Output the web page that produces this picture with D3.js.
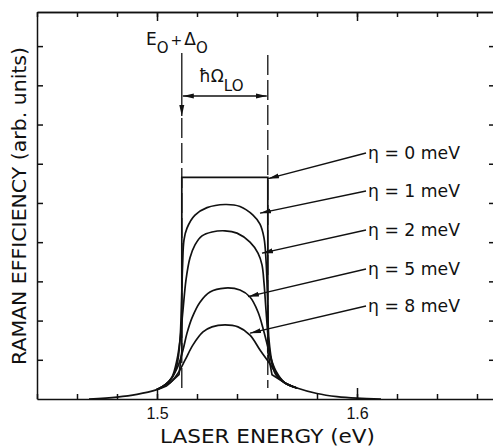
<!DOCTYPE html>
<html>
<head>
<meta charset="utf-8">
<script src="https://cdn.jsdelivr.net/npm/d3@7"></script>
<style>
  body { margin: 0; background: #fff; }
  svg { font-family: "DejaVu Sans", "Liberation Sans", sans-serif; }
  .axis path, .axis line { stroke: #111; stroke-width: 1.5; }
  .curve { fill: none; stroke: #111; stroke-width: 1.7; }
</style>
</head>
<body>
<svg width="493" height="447"></svg>
<script>
// tick values
var minorTicks = d3.range(0, 12).map(function (i) { return +(1.44 + i * 0.02).toFixed(2); });
var majorTicks = [1.5, 1.6];
var yTicks = [1, 2, 3, 4, 5, 6, 7, 8, 9];

// shared tails (eV, arb. units)
var tailLeft = [[1.466, 0], [1.48, 0.05], [1.49, 0.12], [1.50, 0.24]];
var tailRight = [[1.57, 0.28], [1.58, 0.14], [1.59, 0.06], [1.60, 0.02], [1.612, 0]];

// eta = 0 meV : box between E0+D0 and E0+D0+hOmega
var eta0 = [[1.505, 0.34], [1.511, 0.62], [1.5124, 1.2], [1.5124, 5.65], [1.5554, 5.65],
            [1.5554, 1.2], [1.5575, 0.62], [1.564, 0.41]];
var eta1 = [[1.504, 0.36], [1.5075, 0.54], [1.51, 0.87], [1.5115, 1.5], [1.5123, 2.53], [1.5128, 3.42],
            [1.5135, 4.06], [1.515, 4.36], [1.519, 4.69], [1.525, 4.88], [1.534, 4.96], [1.5415, 4.91],
            [1.548, 4.69], [1.5515, 4.46], [1.5535, 4.11], [1.5545, 3.55], [1.5553, 2.53], [1.556, 1.5],
            [1.558, 0.84], [1.561, 0.54], [1.564, 0.41]];
var eta2 = [[1.504, 0.36], [1.5075, 0.56], [1.51, 1.0], [1.5115, 1.5], [1.513, 2.27], [1.5145, 3.04],
            [1.5165, 3.6], [1.519, 3.93], [1.5225, 4.16], [1.5275, 4.26], [1.534, 4.29], [1.54, 4.23],
            [1.5465, 4.0], [1.5505, 3.72], [1.5525, 3.42], [1.5535, 2.96], [1.5545, 2.27], [1.5555, 1.63],
            [1.557, 1.0], [1.5595, 0.61], [1.564, 0.41]];
var eta5 = [[1.5025, 0.31], [1.5065, 0.48], [1.5105, 0.84], [1.513, 1.25], [1.515, 1.68], [1.5175, 2.07],
            [1.5215, 2.47], [1.5265, 2.73], [1.534, 2.83], [1.5415, 2.78], [1.5465, 2.6], [1.5505, 2.22],
            [1.5535, 1.71], [1.5565, 1.12], [1.5595, 0.71], [1.564, 0.41]];
var eta8 = [[1.5015, 0.28], [1.5065, 0.41], [1.5105, 0.66], [1.514, 0.99], [1.518, 1.38], [1.523, 1.71],
            [1.5275, 1.84], [1.534, 1.89], [1.5405, 1.84], [1.5465, 1.63], [1.5515, 1.25], [1.5565, 0.89],
            [1.5605, 0.59], [1.564, 0.41]];

var etaLabels = ["\u03b7 = 0 meV", "\u03b7 = 1 meV", "\u03b7 = 2 meV", "\u03b7 = 5 meV", "\u03b7 = 8 meV"];
// arrow tips pointing at each curve [eV, value]
var arrowTips = [[1.5555, 5.62], [1.5515, 4.74], [1.5525, 3.72], [1.5455, 2.61], [1.5465, 1.68]];

var E0 = 1.5124, hOmega = 0.043;

var svg = d3.select("svg");
var x = d3.scaleLinear().domain([1.44, 1.669]).range([37, 495]);
var y = d3.scaleLinear().domain([0, 9.87]).range([399, 12]);

var defs = svg.append("defs");
defs.append("marker").attr("id", "ah").attr("viewBox", "0 0 11 6")
    .attr("refX", 11).attr("refY", 3).attr("markerWidth", 11).attr("markerHeight", 6)
    .attr("markerUnits", "userSpaceOnUse").attr("orient", "auto-start-reverse")
  .append("path").attr("d", "M0,0.5 L11,3 L0,5.5 Z").attr("fill", "#111");

// axes, ticks inward
function styleAxis(g) { g.attr("class", "axis").selectAll("text").remove(); }
svg.append("g").attr("transform", "translate(0,399)")
   .call(d3.axisBottom(x).tickValues(minorTicks).tickSizeInner(-5).tickSizeOuter(0)).call(styleAxis);
svg.append("g").attr("transform", "translate(0,399)")
   .call(d3.axisBottom(x).tickValues(majorTicks).tickSizeInner(-11).tickSizeOuter(0)
   .tickFormat(d3.format(".1f"))).attr("class", "axis")
   .call(function (g) {
     g.select(".domain").remove();
     g.selectAll("text").attr("y", 9).attr("dy", "0.71em")
      .style("font-size", "16px").style("font-family", "Liberation Sans").attr("fill", "#111");
   });
svg.append("g").attr("transform", "translate(0,12)")
   .call(d3.axisTop(x).tickValues(minorTicks).tickSizeInner(-5).tickSizeOuter(0)).call(styleAxis);
svg.append("g").attr("transform", "translate(0,12)")
   .call(d3.axisTop(x).tickValues(majorTicks).tickSizeInner(-9).tickSizeOuter(0)).call(styleAxis);
svg.append("g").attr("transform", "translate(37,0)")
   .call(d3.axisLeft(y).tickValues(yTicks).tickSizeInner(-6).tickSizeOuter(0)).call(styleAxis);
svg.append("g").attr("transform", "translate(495,0)")
   .call(d3.axisRight(y).tickValues(yTicks).tickSizeInner(-6).tickSizeOuter(0)).call(styleAxis);

// dashed markers at E0+D0 and E0+D0+hOmega
[E0, E0 + hOmega].forEach(function (e, i) {
  svg.append("line").attr("x1", x(e)).attr("x2", x(e))
     .attr("y1", i == 0 ? 118 : 55).attr("y2", 388)
     .attr("stroke", "#111").attr("stroke-width", 1.3).attr("stroke-dasharray", "20,5");
});
svg.append("line").attr("x1", x(E0)).attr("x2", x(E0)).attr("y1", 53).attr("y2", 116)
   .attr("stroke", "#111").attr("stroke-width", 1.3).attr("marker-end", "url(#ah)");
svg.append("line").attr("x1", x(E0) + 1).attr("x2", x(E0 + hOmega) - 1).attr("y1", 96).attr("y2", 96)
   .attr("stroke", "#111").attr("stroke-width", 1.3)
   .attr("marker-start", "url(#ah)").attr("marker-end", "url(#ah)");

// curves
var line = d3.line().x(function (d) { return x(d[0]); }).y(function (d) { return y(d[1]); });
var smooth = d3.line().x(function (d) { return x(d[0]); }).y(function (d) { return y(d[1]); })
    .curve(d3.curveCatmullRom.alpha(0.5));
svg.append("path").attr("class", "curve").attr("d", smooth(tailLeft.concat([[1.505, 0.34]])));
svg.append("path").attr("class", "curve").attr("d", smooth([[1.564, 0.41]].concat(tailRight)));
svg.append("path").attr("class", "curve").attr("d", line(eta0));
[eta1, eta2, eta5, eta8].forEach(function (s) {
  svg.append("path").attr("class", "curve").attr("d", smooth([[1.50, 0.24]].concat(s, [[1.57, 0.28]])));
});

// eta labels with arrows
var labelY = [159, 197, 236, 275, 312];
etaLabels.forEach(function (t, i) {
  svg.append("text").attr("x", 368).attr("y", labelY[i]).text(t)
     .attr("textLength", 92).attr("lengthAdjust", "spacingAndGlyphs")
     .style("font-size", "18px").attr("fill", "#111");
  svg.append("line").attr("x1", 366).attr("y1", labelY[i] - 6)
     .attr("x2", x(arrowTips[i][0])).attr("y2", y(arrowTips[i][1]))
     .attr("stroke", "#111").attr("stroke-width", 1.3).attr("marker-end", "url(#ah)");
});

// annotations
var ann = svg.append("text").attr("x", 146).attr("y", 45).style("font-size", "17px").attr("fill", "#111");
ann.append("tspan").text("E");
ann.append("tspan").attr("dy", 8).style("font-size", "15px").text("O");
ann.append("tspan").attr("dy", -8).attr("dx", 2).style("font-size", "14px").text("+");
ann.append("tspan").attr("dx", 2).text("\u0394");
ann.append("tspan").attr("dy", 8).style("font-size", "15px").text("O");

var hw = svg.append("text").attr("x", 199).attr("y", 82).style("font-size", "17px").attr("fill", "#111");
hw.append("tspan").text("\u0127\u03a9");
hw.append("tspan").attr("dy", 9).style("font-size", "15px").text("LO");

svg.append("text").attr("x", 160).attr("y", 443)
   .attr("textLength", 215).attr("lengthAdjust", "spacingAndGlyphs")
   .style("font-size", "20px").attr("fill", "#111").text("LASER ENERGY (eV)");
svg.append("text").attr("transform", "translate(26,365) rotate(-90)")
   .attr("textLength", 318).attr("lengthAdjust", "spacingAndGlyphs")
   .style("font-size", "19px").attr("fill", "#111").text("RAMAN EFFICIENCY (arb. units)");
</script>
</body>
</html>
